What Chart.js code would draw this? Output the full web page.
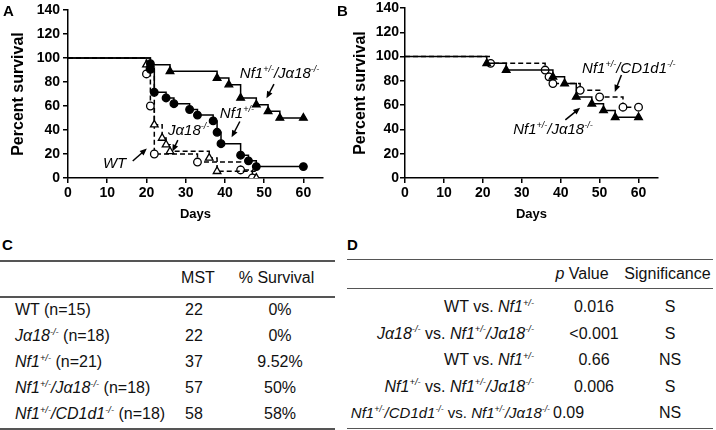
<!DOCTYPE html>
<html>
<head>
<meta charset="utf-8">
<script src="https://cdn.jsdelivr.net/npm/chart.js@4.4.1/dist/chart.umd.min.js"></script>
<style>
  body { margin: 0; background: #fff; }
  #fig { position: relative; width: 716px; height: 430px; overflow: hidden;
         font-family: "Liberation Sans", Arial, sans-serif; color: #111; }
  .abs { position: absolute; white-space: nowrap; line-height: 20px; font-size: 16px; }
  .panel { position: absolute; font-weight: bold; font-size: 15px; line-height: 15px; color: #000; }
  .rule { position: absolute; height: 1.5px; background: #555; }
  sup { font-size: 0.58em; vertical-align: 0; position: relative; top: -0.65em; }
  canvas { position: absolute; top: 0; }
</style>
</head>
<body>
<div id="fig">
  <canvas id="chartA" width="336" height="222" style="left:0"></canvas>
  <canvas id="chartB" width="376" height="222" style="left:340px"></canvas>
  <div class="panel" style="left:3px;top:3px">A</div>
  <div class="panel" style="left:337px;top:3px">B</div>
  <div class="panel" style="left:2px;top:237px">C</div>
  <div class="panel" style="left:347px;top:237px">D</div>
</div>
<script>
// Panel A - Kaplan-Meier curves (days, percent survival)
const wtDays = [0, 20, 21, 22, 33, 44, 47];
const wtSurv = [100, 86.7, 60, 20, 13.3, 6.7, 0];
const ja18Days = [0, 20, 22, 24, 25, 26, 36, 38, 48];
const ja18Surv = [100, 94.4, 44.4, 33.3, 27.8, 22.2, 16.7, 5.6, 0];
const nf1Days = [0, 21, 21, 22, 25, 27, 31, 33, 37, 38, 39, 44, 46, 48, 60];
const nf1Surv = [100, 95.2, 90.5, 71.4, 66.7, 61.9, 57.1, 52.4, 47.6, 38.1, 28.6, 19.0, 14.3, 9.5, 9.5];
const nf1Ja18Days = [0, 21, 26, 38, 41, 44, 48, 51, 54, 60];
const nf1Ja18Surv = [100, 94.4, 88.9, 83.3, 77.8, 66.7, 61.1, 55.6, 50, 50];

// Panel B
const nf1Cd1dDays = [0, 22, 36, 37, 38, 45, 50, 56, 60];
const nf1Cd1dSurv = [100, 94.4, 88.9, 83.3, 77.8, 72.2, 66.7, 58.3, 58.3];

// Axis ticks
const yTicks = [0, 20, 40, 60, 80, 100, 120, 140];
const xTicks = [0, 10, 20, 30, 40, 50, 60];
const xMax = 65;

// Table C
const groupNames = ['WT', '<i>J&alpha;18<sup>-/-</sup></i>', '<i>Nf1<sup>+/-</sup></i>',
  '<i>Nf1<sup>+/-</sup>/J&alpha;18<sup>-/-</sup></i>', '<i>Nf1<sup>+/-</sup>/CD1d1<sup>-/-</sup></i>'];
const groupN = [15, 18, 21, 18, 18];
const mst = [22, 22, 37, 57, 58];
const survivalPct = ['0%', '0%', '9.52%', '50%', '58%'];

// Table D
const comparisons = ['WT vs. <i>Nf1<sup>+/-</sup></i>',
  '<i>J&alpha;18<sup>-/-</sup></i> vs. <i>Nf1<sup>+/-</sup>/J&alpha;18<sup>-/-</sup></i>',
  'WT vs. <i>Nf1<sup>+/-</sup></i>',
  '<i>Nf1<sup>+/-</sup></i> vs. <i>Nf1<sup>+/-</sup>/J&alpha;18<sup>-/-</sup></i>',
  '<i>Nf1<sup>+/-</sup>/CD1d1<sup>-/-</sup></i> vs. <i>Nf1<sup>+/-</sup>/J&alpha;18<sup>-/-</sup></i>'];
const pValues = ['0.016', '&lt;0.001', '0.66', '0.006', '0.09'];
const significance = ['S', 'S', 'NS', 'S', 'NS'];

const FONT = '"Liberation Sans", Arial, sans-serif';

// One step curve
function km(label, days, surv, marker, open, dashed, r) {
  return {
    label,
    data: days.map((d, i) => ({ x: d, y: surv[i] })),
    stepped: 'before',
    borderColor: '#000',
    borderWidth: 1.5,
    borderDash: dashed ? [5, 3] : [],
    pointStyle: marker,
    pointRadius: ctx => ctx.dataIndex === 0 ? 0 : r,
    pointBackgroundColor: open ? '#fff' : '#000',
    pointBorderColor: '#000',
    pointBorderWidth: 1.3,
    fill: false
  };
}

// Italic label with superscripts, drawn on the canvas
function drawRich(ctx, parts, x, y) {
  let cx = x;
  ctx.textBaseline = 'alphabetic';
  ctx.textAlign = 'left';
  parts.forEach(([txt, sup]) => {
    ctx.font = sup ? 'italic 9px ' + FONT : 'italic 15px ' + FONT;
    ctx.fillText(txt, cx, sup ? y - 6 : y);
    cx += ctx.measureText(txt).width;
  });
}

function arrow(ctx, x1, y1, x2, y2) {
  const a = Math.atan2(y2 - y1, x2 - x1);
  ctx.beginPath();
  ctx.moveTo(x1, y1);
  ctx.lineTo(x2 - 4 * Math.cos(a), y2 - 4 * Math.sin(a));
  ctx.stroke();
  ctx.beginPath();
  ctx.moveTo(x2, y2);
  ctx.lineTo(x2 - 7 * Math.cos(a) + 3 * Math.sin(a), y2 - 7 * Math.sin(a) - 3 * Math.cos(a));
  ctx.lineTo(x2 - 7 * Math.cos(a) - 3 * Math.sin(a), y2 - 7 * Math.sin(a) + 3 * Math.cos(a));
  ctx.closePath();
  ctx.fill();
}

function notesPlugin(notes) {
  return {
    id: 'notes',
    afterDatasetsDraw(chart) {
      const { ctx, scales: { x, y } } = chart;
      ctx.save();
      ctx.fillStyle = '#000';
      ctx.strokeStyle = '#000';
      ctx.lineWidth = 1.5;
      notes.forEach(n => {
        drawRich(ctx, n.parts, x.getPixelForValue(n.at[0]), y.getPixelForValue(n.at[1]));
        arrow(ctx, x.getPixelForValue(n.from[0]), y.getPixelForValue(n.from[1]),
          x.getPixelForValue(n.to[0]), y.getPixelForValue(n.to[1]));
      });
      ctx.restore();
    }
  };
}

function makeChart(id, datasets, notes, cfg) {
  new Chart(document.getElementById(id), {
    type: 'line',
    data: { datasets },
    plugins: [notesPlugin(notes)],
    options: {
      responsive: false,
      animation: false,
      events: [],
      layout: { padding: { left: 0, right: cfg.right, top: 7.3, bottom: 0 } },
      plugins: { legend: { display: false }, tooltip: { enabled: false } },
      scales: {
        x: {
          type: 'linear',
          min: 0,
          max: xMax,
          afterFit: s => { s.height = 44; },
          afterBuildTicks: s => { s.ticks = xTicks.map(v => ({ value: v })); },
          ticks: { color: '#000', padding: 2, font: { family: FONT, size: 14, weight: 'bold' } },
          grid: { drawOnChartArea: false, drawTicks: true, tickLength: 5, color: '#000', lineWidth: 1.5 },
          border: { display: true, color: '#000', width: 1.5 },
          title: { display: true, text: 'Days', color: '#000', padding: { top: 0, bottom: 0 },
            font: { family: FONT, size: 13, weight: 'bold' } }
        },
        y: {
          min: 0,
          max: 140,
          afterFit: s => { s.width = cfg.yWidth; },
          afterBuildTicks: s => { s.ticks = yTicks.map(v => ({ value: v })); },
          ticks: { color: '#000', padding: cfg.tickPad, font: { family: FONT, size: 14, weight: 'bold', lineHeight: 1 } },
          grid: { drawOnChartArea: false, drawTicks: true, tickLength: 5, color: '#000', lineWidth: 1.5 },
          border: { display: true, color: '#000', width: 1.5 },
          title: { display: true, text: 'Percent survival', color: '#000', padding: { top: cfg.titlePad, bottom: 0 },
            font: { family: FONT, size: 16, weight: 'bold' } }
        }
      }
    }
  });
}

const supNf1Ja18 = [['Nf1'], ['+/-', 1], ['/J\u03b118'], ['-/-', 1]];

makeChart('chartA', [
  km('Nf1+/-/Ja18-/-', nf1Ja18Days, nf1Ja18Surv, 'triangle', false, false, 4.4),
  km('Nf1+/-', nf1Days, nf1Surv, 'circle', false, false, 3.8),
  km('Ja18-/-', ja18Days, ja18Surv, 'triangle', true, true, 4.4),
  km('WT', wtDays, wtSurv, 'circle', true, true, 3.8)
], [
  { parts: supNf1Ja18, at: [43.8, 83.2], from: [52.5, 78.3], to: [50.6, 66.4] },
  { parts: [['Nf1'], ['+/-', 1]], at: [38.7, 50.4], from: [43.8, 47.1], to: [41.7, 33.9] },
  { parts: [['J\u03b118'], ['-/-', 1]], at: [25.5, 35.6], from: [28, 31.5], to: [26.6, 22] },
  { parts: [['WT']], at: [8.9, 8.5], from: [16.5, 14.2], to: [20.1, 24.5] }
], { right: 13, yWidth: 68, tickPad: 3, titlePad: 9 });

makeChart('chartB', [
  km('Nf1+/-/Ja18-/-', nf1Ja18Days, nf1Ja18Surv, 'triangle', false, false, 4.4),
  km('Nf1+/-/CD1d1-/-', nf1Cd1dDays, nf1Cd1dSurv, 'circle', true, true, 3.8)
], [
  { parts: [['Nf1'], ['+/-', 1], ['/CD1d1'], ['-/-', 1]], at: [45.5, 86.8], from: [55.6, 84.9], to: [53.9, 70.9] },
  { parts: supNf1Ja18, at: [27.8, 36.4], from: [41.2, 47.9], to: [45, 57.8] }
], { right: 58, yWidth: 65, tickPad: 1, titlePad: 11 });

// Tables
const fig = document.getElementById('fig');
function put(html, x, yc, align, size) {
  const d = document.createElement('div');
  d.className = 'abs';
  d.innerHTML = html;
  d.style.top = (yc - 10) + 'px';
  if (size) d.style.fontSize = size + 'px';
  if (align === 'center') { d.style.left = (x - 200) + 'px'; d.style.width = '400px'; d.style.textAlign = 'center'; }
  else if (align === 'right') { d.style.left = (x - 400) + 'px'; d.style.width = '400px'; d.style.textAlign = 'right'; }
  else d.style.left = x + 'px';
  fig.appendChild(d);
}
function rule(x1, x2, y) {
  const d = document.createElement('div');
  d.className = 'rule';
  d.style.left = x1 + 'px';
  d.style.width = (x2 - x1) + 'px';
  d.style.top = (y - 0.75) + 'px';
  fig.appendChild(d);
}

// C
rule(0, 335, 261);
rule(0, 335, 297);
rule(0, 335, 429);
put('MST', 198, 278, 'center');
put('% Survival', 276.5, 278, 'center');
groupNames.forEach((g, i) => {
  const yc = 310 + i * 26;
  put(g + ' (n=' + groupN[i] + ')', 15, yc, 'left');
  put(String(mst[i]), 194, yc, 'center');
  put(survivalPct[i], 280, yc, 'center');
});

// D
rule(347, 713, 259.5);
rule(347, 713, 288.5);
rule(347, 713, 428.5);
put('<i>p</i> Value', 582, 274, 'center');
put('Significance', 667.5, 274, 'center');
comparisons.forEach((c, i) => {
  const yc = 307 + i * 26.5;
  const last = i === comparisons.length - 1;
  if (last) {
    put(c, 550, yc, 'right', 15);
    put(pValues[i], 553, yc, 'left');
  } else {
    put(c, 534, yc, 'right');
    put(pValues[i], 594, yc, 'center');
  }
  put(significance[i], 670, yc, 'center');
});
</script>
</body>
</html>
